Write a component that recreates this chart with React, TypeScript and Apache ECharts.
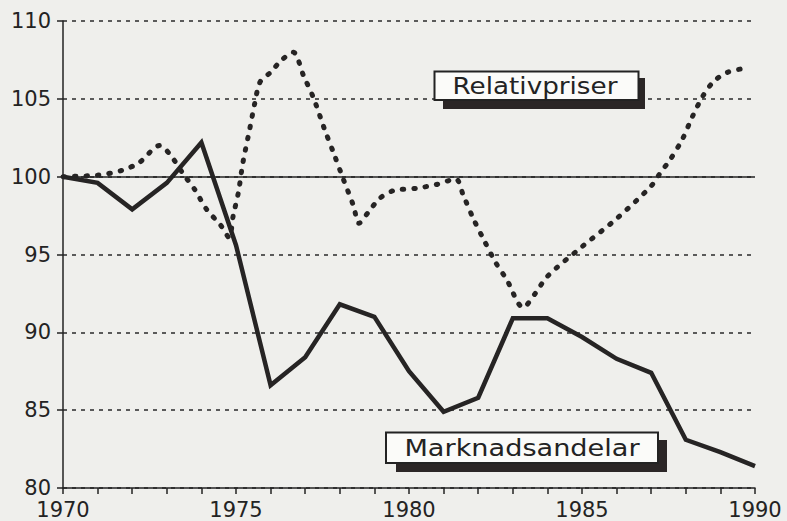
import React, { useEffect, useRef } from "react";
import * as echarts from "echarts";

// Marknadsandelar (solid line), one value per year
const years = [1970, 1971, 1972, 1973, 1974, 1975, 1976, 1977, 1978, 1979, 1980, 1981, 1982, 1983, 1984, 1985, 1986, 1987, 1988, 1989, 1990];
const marknadsandelar = [100, 99.6, 97.9, 99.6, 102.2, 95.6, 86.6, 88.4, 91.8, 91.0, 87.5, 84.9, 85.8, 90.9, 90.9, 89.7, 88.3, 87.4, 83.1, 82.3, 81.4];

// Relativpriser (dotted curve), traced at irregular time points
const prisTid = [1970.0, 1971.0, 1971.7, 1972.2, 1972.8, 1973.1, 1973.5, 1973.8, 1974.15, 1974.55, 1974.8, 1974.92, 1975.07, 1975.2, 1975.4, 1975.55, 1975.7, 1976.0, 1976.3, 1976.65, 1976.95, 1977.25, 1977.55, 1977.85, 1978.1, 1978.4, 1978.55, 1978.82, 1979.15, 1979.55, 1980.2, 1980.8, 1981.35, 1981.57, 1981.86, 1982.15, 1982.5, 1982.82, 1983.3, 1983.65, 1984.0, 1985.0, 1986.0, 1987.0, 1987.25, 1987.55, 1987.9, 1988.2, 1988.5, 1988.8, 1989.2, 1989.8];
const relativpriser = [100.0, 100.1, 100.4, 100.9, 102.0, 101.4, 100.1, 99.2, 97.9, 96.9, 96.1, 97.5, 99.0, 100.9, 103.1, 104.8, 106.1, 106.7, 107.45, 108.0, 106.5, 105.0, 103.1, 101.35, 99.85, 98.1, 97.0, 97.7, 98.6, 99.1, 99.25, 99.5, 99.85, 98.8, 97.3, 96.0, 94.5, 93.4, 91.6, 92.5, 93.6, 95.5, 97.3, 99.4, 100.2, 101.1, 102.4, 103.9, 105.2, 106.1, 106.7, 107.0];

const yTicks = [80, 85, 90, 95, 100, 105, 110];
const xLabelYears = [1970, 1975, 1980, 1985, 1990];
const referenceLevel = 100;

const seriesNames = { solid: "Marknadsandelar", dotted: "Relativpriser" };

const INK = "#232323";
const FONT = "DejaVu Sans";

export default function App() {
  const ref = useRef<HTMLDivElement>(null);

  useEffect(() => {
    if (!ref.current) return;
    const chart = echarts.init(ref.current, undefined, { renderer: "svg" });
    const solidData = years.map((y, i) => [y, marknadsandelar[i]]);
    const dottedData = prisTid.map((t, i) => [t, relativpriser[i]]);

    chart.setOption({
      animation: false,
      backgroundColor: "#efefec",
      grid: { left: 63, top: 21, right: 32, bottom: 33, containLabel: false },
      xAxis: {
        type: "value",
        min: years[0],
        max: years[years.length - 1],
        interval: 1,
        axisLine: { show: true, lineStyle: { color: INK, width: 1.5 } },
        axisTick: { show: true, inside: false, length: 6, lineStyle: { color: INK, width: 1.5 } },
        axisLabel: {
          margin: 11,
          fontFamily: FONT,
          fontSize: 21,
          color: INK,
          formatter: (v: number) => (xLabelYears.includes(v) ? String(v) : ""),
        },
        splitLine: { show: false },
      },
      yAxis: {
        type: "value",
        min: yTicks[0],
        max: yTicks[yTicks.length - 1],
        interval: 5,
        axisLine: { show: true, lineStyle: { color: INK, width: 1.5 } },
        axisTick: { show: true, inside: false, length: 6, lineStyle: { color: INK, width: 1.5 } },
        axisLabel: {
          margin: 12,
          fontFamily: FONT,
          fontSize: 21,
          color: INK,
          formatter: (v: number) => String(v),
        },
        splitLine: {
          show: true,
          lineStyle: { color: "#2a2a2a", width: 1.5, type: [4, 5] },
        },
      },
      series: [
        {
          name: seriesNames.dotted,
          type: "line",
          data: dottedData,
          smooth: 0.3,
          showSymbol: false,
          symbol: "none",
          lineStyle: { color: "#262424", width: 5, type: [1.5, 10], cap: "round" },
          z: 3,
        },
        {
          name: seriesNames.solid,
          type: "line",
          data: solidData,
          showSymbol: false,
          symbol: "none",
          lineStyle: { color: "#262424", width: 4.5, join: "miter" },
          markLine: {
            silent: true,
            symbol: "none",
            label: { show: false },
            lineStyle: { color: INK, width: 1.5, type: "solid" },
            data: [{ yAxis: referenceLevel }],
          },
          z: 4,
        },
      ],
      graphic: [
        // Relativpriser label box
        { type: "rect", shape: { x: 443, y: 78, width: 202, height: 31 }, style: { fill: "#2b2626" }, z: 10 },
        { type: "rect", shape: { x: 434.5, y: 71.5, width: 204, height: 28.5 }, style: { fill: "#fbfbf9", stroke: INK, lineWidth: 2 }, z: 11 },
        {
          type: "text",
          x: 535,
          y: 86,
          scaleX: 1.14,
          style: { text: seriesNames.dotted, fontFamily: FONT, fontSize: 23, fill: INK, align: "center", verticalAlign: "middle" },
          z: 12,
        },
        // Marknadsandelar label box
        { type: "rect", shape: { x: 396, y: 440, width: 271, height: 32 }, style: { fill: "#2b2626" }, z: 10 },
        { type: "rect", shape: { x: 386, y: 432.5, width: 272, height: 30.5 }, style: { fill: "#fbfbf9", stroke: INK, lineWidth: 2 }, z: 11 },
        {
          type: "text",
          x: 522,
          y: 448,
          scaleX: 1.18,
          style: { text: seriesNames.solid, fontFamily: FONT, fontSize: 23, fill: INK, align: "center", verticalAlign: "middle" },
          z: 12,
        },
      ],
    });

    return () => chart.dispose();
  }, []);

  return (
    <div
      ref={ref}
      style={{ position: "fixed", left: 0, top: 0, width: 787, height: 521, background: "#efefec" }}
    />
  );
}
